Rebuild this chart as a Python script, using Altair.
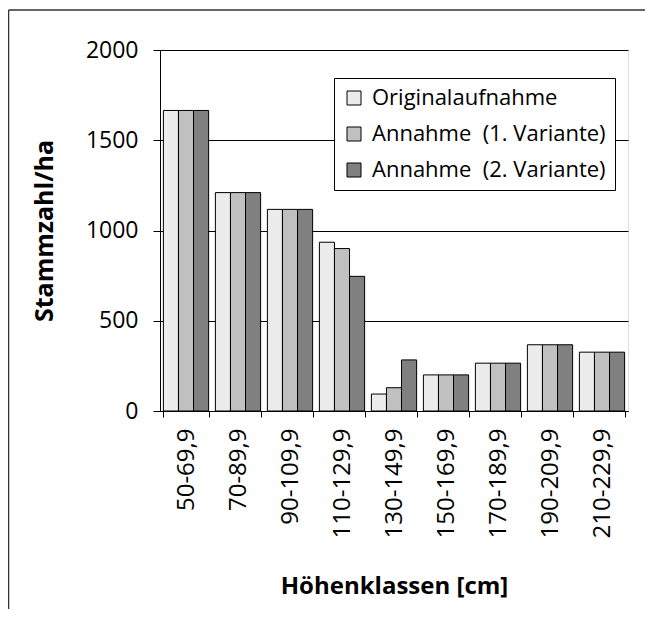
import altair as alt
import pandas as pd

classes = ["50-69,9", "70-89,9", "90-109,9", "110-129,9", "130-149,9",
           "150-169,9", "170-189,9", "190-209,9", "210-229,9"]
series = ["Originalaufnahme", "Annahme\u00a0 (1. Variante)", "Annahme\u00a0 (2. Variante)"]
orig = [1665, 1210, 1117, 935, 94, 200, 265, 367, 326]
var1 = [1665, 1210, 1117, 900, 129, 200, 265, 367, 326]
var2 = [1665, 1210, 1117, 746, 283, 200, 265, 367, 326]
colors = ["#ececec", "#c0c0c0", "#808080"]
y_ticks = [0, 500, 1000, 1500, 2000]

rows = []
for s, vals in zip(series, [orig, var1, var2]):
    for c, v in zip(classes, vals):
        rows.append({"klasse": c, "serie": s, "wert": v})
df = pd.DataFrame(rows)

FONT = "Open Sans"
W, H = 468, 361
PAD = {"left": 152, "top": 42, "right": 17, "bottom": 198}

bars = alt.Chart(df).mark_bar(stroke="black", strokeWidth=1).encode(
    x=alt.X("klasse:N", sort=classes,
            scale=alt.Scale(paddingInner=0.13, paddingOuter=0.065),
            axis=alt.Axis(title="Höhenklassen [cm]", labelAngle=-90, labelAlign="right",
                          labelBaseline="middle", tickBand="extent", tickSize=6,
                          labelPadding=11, labelFontSize=24, labelFont=FONT,
                          labelColor="black", titleFont=FONT, titleFontSize=24,
                          titleFontWeight="bold", titleColor="black", titlePadding=37,
                          domainColor="black", tickColor="black")),
    xOffset=alt.XOffset("serie:N", sort=series,
                        scale=alt.Scale(paddingInner=0, paddingOuter=0)),
    y=alt.Y("wert:Q", scale=alt.Scale(domain=[0, 2000]),
            axis=alt.Axis(values=y_ticks, format="d", title="Stammzahl/ha", grid=True,
                          gridColor="black", gridOpacity=1, tickSize=7,
                          labelPadding=15, labelFontSize=23, labelFont=FONT,
                          labelColor="black", titleFont=FONT, titleFontSize=25,
                          titleFontWeight="bold", titleColor="black", titlePadding=28,
                          domainColor="black", tickColor="black")),
    color=alt.Color("serie:N", sort=series,
                    scale=alt.Scale(domain=series, range=colors),
                    legend=alt.Legend(title=None, orient="none", legendX=174, legendY=28,
                                      strokeColor="black", fillColor="white", padding=9,
                                      symbolType="square", symbolSize=196,
                                      symbolStrokeColor="black", symbolStrokeWidth=1,
                                      labelFontSize=22, labelFont=FONT, labelColor="black",
                                      labelLimit=0, rowPadding=14, labelOffset=7)),
)

frame_df = pd.DataFrame({"k": [0]})
top_line = alt.Chart(frame_df).mark_rule(color="#333333", strokeWidth=1.5).encode(
    x=alt.value(-151.5), x2=alt.value(W + PAD["right"]), y=alt.value(-40))
left_line = alt.Chart(frame_df).mark_rule(color="#333333", strokeWidth=1.5).encode(
    x=alt.value(-151.5), y=alt.value(-40), y2=alt.value(H + PAD["bottom"]))

chart = alt.layer(bars, top_line, left_line).properties(
    width=W, height=H,
    autosize=alt.AutoSizeParams(type="none"),
    padding=PAD,
).configure_view(stroke="#808080", strokeWidth=1).configure(background="white")

chart.save("out.html", embed_options={"renderer": "svg", "actions": False})
